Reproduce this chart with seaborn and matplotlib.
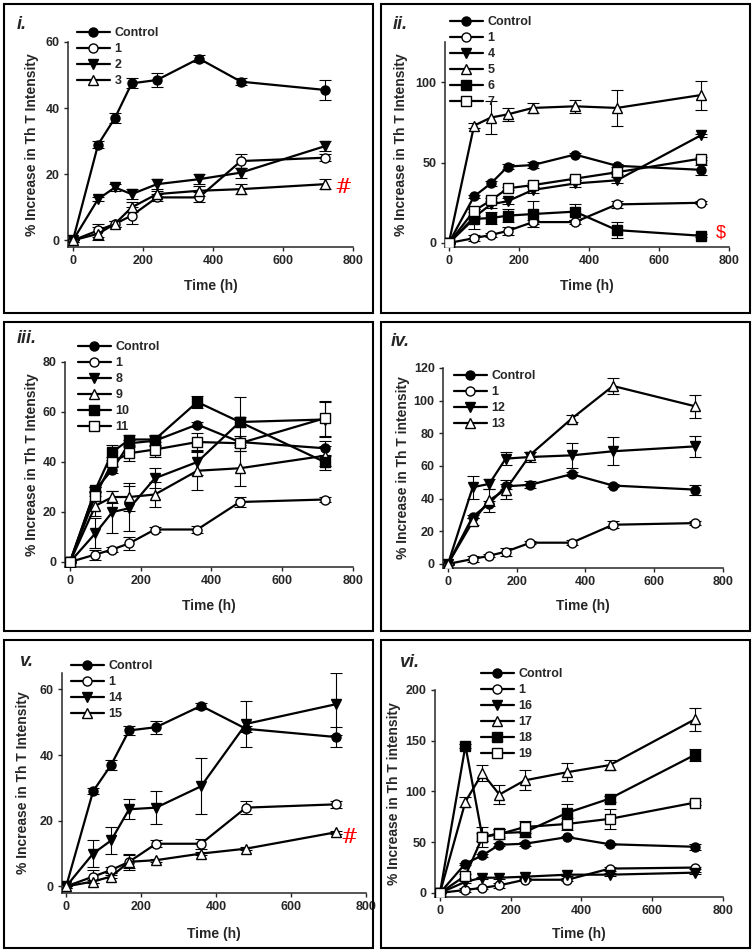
import numpy as np
import pandas as pd
import seaborn as sns
import matplotlib.pyplot as plt
from matplotlib.patches import Rectangle

# sampling times (h)
time = [0, 72, 120, 168, 240, 360, 480, 720]

control = [0, 29, 37, 47.5, 48.5, 55, 48, 45.5]
control_err = [0.5, 1, 1.5, 1.5, 2, 1, 1, 3]
c1 = [0, 3, 5, 7.5, 13, 13, 24, 25]
c1_err = [0.5, 2, 1, 2.5, 1, 1.5, 2, 1]
c2 = [0, 12.5, 16, 14, 17, 18.5, 20.5, 28.5]
c2_err = [0, 0.5, 1, 1.5, 1.5, 1.5, 1.5, 1.5]
c3 = [0, 2, 5, 10, 14, 15, 15.5, 17]
c3_err = [0, 2, 1, 1.5, 1, 1.5, 1.5, 1.5]
c4 = [0, 16, 24, 26, 33, 37, 39, 67]
c4_err = [0, 1, 2, 2, 2, 2, 2, 1]
c5 = [0, 73, 78, 80, 84, 85, 84, 92]
c5_err = [0, 1.5, 10, 4, 3, 4, 11, 9]
c6 = [0, 15, 15.5, 17, 18, 19.5, 8, 4.5]
c6_err = [0, 6, 4, 4, 8, 5, 5, 1]
c7 = [0, 20, 26.5, 34, 36, 40, 44, 52.5]
c7_err = [0, 1, 1.5, 1, 1, 1, 1, 1]
c8 = [0, 11.5, 20, 21.5, 33.5, 40, 56, 57]
c8_err = [0, 6, 8.5, 9, 4, 5, 2, 7]
c9 = [0, 22.5, 26, 26, 27, 36.5, 37.5, 42.5]
c9_err = [0, 4, 2.5, 5.5, 5, 7.5, 7, 4]
c10 = [0, 29, 44, 49, 49, 64, 56, 40]
c10_err = [0, 1, 3, 2, 2, 2.5, 10, 3]
c11 = [0, 26.5, 40, 43.5, 45, 48, 47.5, 57.5]
c11_err = [0, 2, 2, 3, 3, 3.5, 3, 7]
c12 = [0, 47, 49, 64.5, 65.5, 66.5, 69, 72]
c12_err = [0, 7, 3, 4, 3, 7.5, 8.5, 6.5]
c13 = [0, 26, 39, 45.5, 67, 89, 109, 96.5]
c13_err = [0, 2, 7, 6, 1.5, 2, 5, 7]
c14 = [0, 10, 14, 23.5, 24, 30.5, 49.5, 55.5]
c14_err = [0, 4, 4, 3, 5, 8.5, 7, 9.5]
c15 = [0, 1.5, 3, 7.5, 8, 10, 11.5, 16.5]
c15_err = [0, 0.5, 0.5, 2, 0.5, 0.5, 0.5, 0.5]
c16 = [0, 11, 15, 15, 16, 18, 18, 20]
c16_err = [0, 1, 1, 1, 1, 1, 1.5, 1]
c17 = [0, 90, 118, 97, 111, 119, 126, 171]
c17_err = [0, 5, 8, 9, 10, 9, 5, 11]
c18 = [0, 145, 55, 59, 60, 79, 93, 136]
c18_err = [0, 2, 4, 4, 5, 9, 3, 6]
c19 = [0, 17, 55, 58, 65, 68, 73, 89]
c19_err = [0, 2, 10, 5, 6, 6, 10, 2]

series = {
    'Control': (control, control_err), '1': (c1, c1_err),
    '2': (c2, c2_err), '3': (c3, c3_err), '4': (c4, c4_err),
    '5': (c5, c5_err), '6': (c6, c6_err), '7': (c7, c7_err),
    '8': (c8, c8_err), '9': (c9, c9_err), '10': (c10, c10_err),
    '11': (c11, c11_err), '12': (c12, c12_err), '13': (c13, c13_err),
    '14': (c14, c14_err), '15': (c15, c15_err), '16': (c16, c16_err),
    '17': (c17, c17_err), '18': (c18, c18_err), '19': (c19, c19_err),
}

panel_labels = ['i.', 'ii.', 'iii.', 'iv.', 'v.', 'vi.']
panel_groups = [
    ['Control', '1', '2', '3'],
    ['Control', '1', '4', '5', '6', '7'],
    ['Control', '1', '8', '9', '10', '11'],
    ['Control', '1', '12', '13'],
    ['Control', '1', '14', '15'],
    ['Control', '1', '16', '17', '18', '19'],
]
panel_ymax = [60, 125, 80, 120, 65, 200]
panel_yticks = [[0, 20, 40, 60], [0, 50, 100], [0, 20, 40, 60, 80],
                [0, 20, 40, 60, 80, 100, 120], [0, 20, 40, 60],
                [0, 50, 100, 150, 200]]
ylabels = ['% Increase in Th T Intensity'] * 3 + ['% Increase in Th T intensity',
           '% Increase in Th T Intensity', '% Increase in Th T intensity']

# marker style by position in the panel (Control, 1, then four compounds)
styles = [('o', 'black'), ('o', 'white'), ('v', 'black'),
          ('^', 'white'), ('s', 'black'), ('s', 'white')]

W, H = 753, 952
sns.set_style('ticks')
plt.rcParams['font.family'] = ['Liberation Sans', 'DejaVu Sans']
plt.rcParams['font.weight'] = 'bold'
plt.rcParams['axes.labelweight'] = 'bold'

fig = plt.figure(figsize=(W / 100, H / 100), dpi=100)

# layout in pixels: (left spine, top, x of 800, bottom spine, xmin)
axes_px = [(68, 42, 353, 247, -14), (445, 42, 729, 247, -11),
           (65, 362, 353, 567, -14), (443, 368, 723, 568, -14.5),
           (62, 673, 366, 893, -11), (435, 690, 723, 897, -14)]
ymins = [-2, -2.5, -2, -2.5, -2, -4]
boxes = [(4, 4, 373, 313), (381, 4, 750, 313), (4, 322, 373, 631),
         (381, 322, 750, 631), (4, 640, 373, 948), (381, 640, 750, 948)]
legend_px = [(77, 27), (450, 16), (78, 341), (454, 370), (71, 660), (481, 668)]
ylabel_px = [39, 408, 39, 410, 30, 401]
xlabel_px = [279, 279, 599, 599, 927, 927]
label_px = [(17, 16), (393, 16), (17, 330), (391, 333), (19, 653), (399, 654)]

for k in range(6):
    l, t, r, b, xmin = axes_px[k]
    ax = fig.add_axes([l / W, 1 - b / H, (r - l) / W, (b - t) / H])
    for j, name in enumerate(panel_groups[k]):
        vals, err = series[name]
        mk, fc = styles[j]
        df = pd.DataFrame({'Time (h)': time, 'y': vals})
        ax.errorbar(time, vals, yerr=err, fmt='none', ecolor='black',
                    elinewidth=0.8, capsize=4, capthick=0.8, zorder=1)
        sns.lineplot(data=df, x='Time (h)', y='y', ax=ax, color='black',
                     lw=1.6, marker=mk, markersize=6.5, markerfacecolor=fc,
                     markeredgecolor='black', markeredgewidth=1,
                     label=name, zorder=3)
    ax.set_xlim(xmin, 800)
    ax.set_ylim(ymins[k], panel_ymax[k])
    ax.set_xticks([0, 200, 400, 600, 800])
    ax.set_yticks(panel_yticks[k])
    sns.despine(ax=ax)
    for s in ['left', 'bottom']:
        ax.spines[s].set_linewidth(1.1)
    ax.tick_params(direction='out', length=3, width=1, labelsize=9, pad=3)
    for lab in ax.get_xticklabels() + ax.get_yticklabels():
        lab.set_fontweight('bold')
    ax.set_ylabel(ylabels[k], fontsize=10, fontweight='bold')
    ax.set_xlabel('Time (h)', fontsize=10, fontweight='bold')
    ax.yaxis.set_label_coords((ylabel_px[k] - l) / (r - l), 0.5)
    ax.xaxis.set_label_coords(0.5, -(xlabel_px[k] - b) / (b - t))
    ax.xaxis.label.set_va('top')
    lx, ly = legend_px[k]
    leg = ax.legend(loc='upper left', bbox_to_anchor=(lx / W, 1 - ly / H),
                    bbox_transform=fig.transFigure, frameon=False,
                    borderpad=0, borderaxespad=0, handlelength=2.6,
                    handletextpad=0.4, labelspacing=0.32,
                    prop={'weight': 'bold', 'size': 9})
    ax.patch.set_alpha(0)
    bl, bt, br, bb = boxes[k]
    fig.patches.append(Rectangle((bl / W, 1 - bb / H), (br - bl) / W, (bb - bt) / H,
                                 transform=fig.transFigure, fill=False,
                                 edgecolor='black', lw=1.5, zorder=0))
    px, py = label_px[k]
    fig.text(px / W, 1 - py / H, panel_labels[k], fontsize=13,
             fontweight='bold', style='italic', va='top', ha='left')

# red significance marks
fig.axes[0].text(772, 16, '#', color='red', fontsize=15, ha='center',
                 va='center', family='DejaVu Serif', fontweight='normal')
fig.axes[1].text(777, 6, r'\$', color='red', fontsize=13, ha='center',
                 va='center', fontweight='normal')
fig.axes[4].text(755, 15, '#', color='red', fontsize=15, ha='center',
                 va='center', family='DejaVu Serif', fontweight='normal')

fig.savefig('out.png', dpi=100)
